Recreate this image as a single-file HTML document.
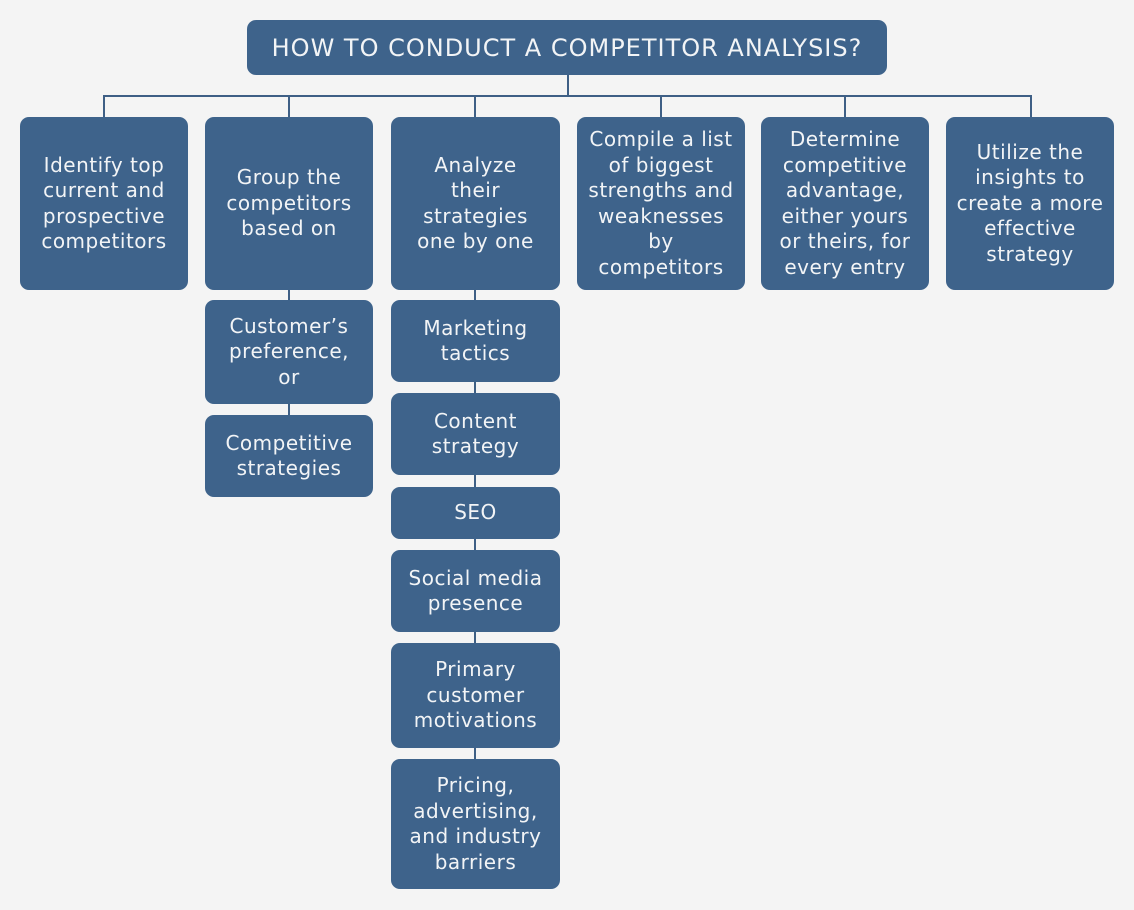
<!DOCTYPE html>
<html>
<head>
<meta charset="utf-8">
<style>
  html, body { margin:0; padding:0; }
  body {
    width:1134px; height:910px; position:relative; overflow:hidden;
    background:#f4f4f4;
    font-family:"DejaVu Sans","Liberation Sans",sans-serif;
  }
  .b {
    position:absolute; background:#3e638b; border-radius:9px;
    color:#f2f4f6; display:flex; align-items:center; justify-content:center;
    text-align:center; font-size:20px; line-height:25.5px; letter-spacing:0.5px;
    white-space:nowrap;
  }
  .t {
    font-size:24px; letter-spacing:1px; line-height:30px;
  }
  .l { position:absolute; background:#3e5f85; }
</style>
</head>
<body>
  <!-- connectors -->
  <div class="l" style="left:567px;top:75px;width:2px;height:22px;"></div>
  <div class="l" style="left:103px;top:95px;width:929px;height:2px;"></div>
  <div class="l" style="left:103px;top:95px;width:2px;height:23px;"></div>
  <div class="l" style="left:288px;top:95px;width:2px;height:23px;"></div>
  <div class="l" style="left:474px;top:95px;width:2px;height:23px;"></div>
  <div class="l" style="left:660px;top:95px;width:2px;height:23px;"></div>
  <div class="l" style="left:844px;top:95px;width:2px;height:23px;"></div>
  <div class="l" style="left:1030px;top:95px;width:2px;height:23px;"></div>

  <div class="l" style="left:288px;top:289px;width:2px;height:12px;"></div>
  <div class="l" style="left:288px;top:403px;width:2px;height:13px;"></div>

  <div class="l" style="left:474px;top:289px;width:2px;height:12px;"></div>
  <div class="l" style="left:474px;top:381px;width:2px;height:13px;"></div>
  <div class="l" style="left:474px;top:474px;width:2px;height:14px;"></div>
  <div class="l" style="left:474px;top:538px;width:2px;height:13px;"></div>
  <div class="l" style="left:474px;top:631px;width:2px;height:13px;"></div>
  <div class="l" style="left:474px;top:747px;width:2px;height:13px;"></div>

  <!-- title -->
  <div class="b t" style="left:247px;top:20px;width:640px;height:55px;">HOW TO CONDUCT A COMPETITOR ANALYSIS?</div>

  <!-- top row -->
  <div class="b" style="left:20px;top:117px;width:168px;height:173px;">Identify top<br>current and<br>prospective<br>competitors</div>
  <div class="b" style="left:205px;top:117px;width:168px;height:173px;">Group the<br>competitors<br>based on</div>
  <div class="b" style="left:391px;top:117px;width:169px;height:173px;">Analyze<br>their<br>strategies<br>one by one</div>
  <div class="b" style="left:577px;top:117px;width:168px;height:173px;">Compile a list<br>of biggest<br>strengths and<br>weaknesses<br>by<br>competitors</div>
  <div class="b" style="left:761px;top:117px;width:168px;height:173px;">Determine<br>competitive<br>advantage,<br>either yours<br>or theirs, for<br>every entry</div>
  <div class="b" style="left:946px;top:117px;width:168px;height:173px;">Utilize the<br>insights to<br>create a more<br>effective<br>strategy</div>

  <!-- column 2 -->
  <div class="b" style="left:205px;top:300px;width:168px;height:104px;">Customer’s<br>preference,<br>or</div>
  <div class="b" style="left:205px;top:415px;width:168px;height:82px;">Competitive<br>strategies</div>

  <!-- column 3 -->
  <div class="b" style="left:391px;top:300px;width:169px;height:82px;">Marketing<br>tactics</div>
  <div class="b" style="left:391px;top:393px;width:169px;height:82px;">Content<br>strategy</div>
  <div class="b" style="left:391px;top:487px;width:169px;height:52px;">SEO</div>
  <div class="b" style="left:391px;top:550px;width:169px;height:82px;">Social media<br>presence</div>
  <div class="b" style="left:391px;top:643px;width:169px;height:105px;">Primary<br>customer<br>motivations</div>
  <div class="b" style="left:391px;top:759px;width:169px;height:130px;">Pricing,<br>advertising,<br>and industry<br>barriers</div>
</body>
</html>
